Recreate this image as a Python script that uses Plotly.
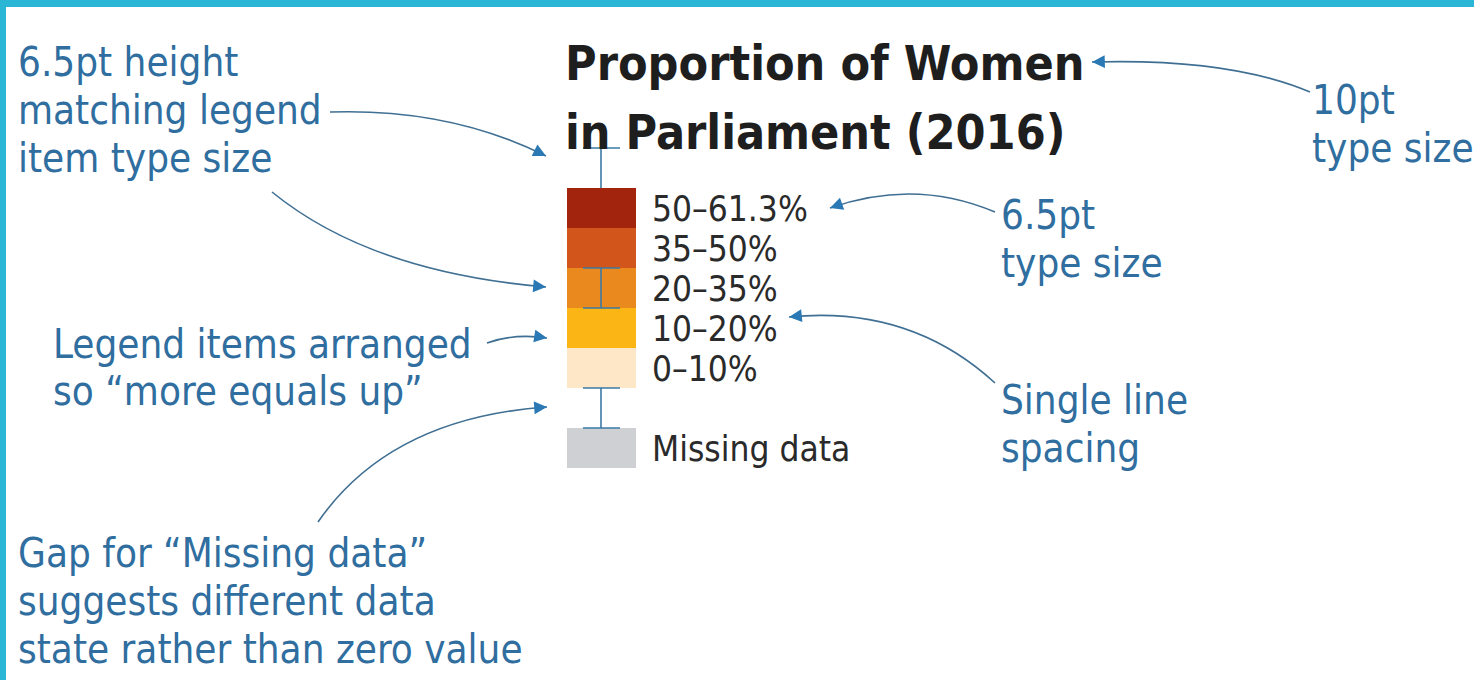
import plotly.graph_objects as go
import math

# ---------------- data ----------------
categories = ["50–61.3%", "35–50%", "20–35%", "10–20%", "0–10%"]
cat_colors = ["#a3240c", "#d2561b", "#ea8a1e", "#fbb515", "#fde7c6"]
missing_label = "Missing data"
missing_color = "#cfd0d3"
title_lines = ["Proportion of Women", "in Parliament (2016)"]

note_topleft = ["6.5pt height", "matching legend", "item type size"]
note_arranged = ["Legend items arranged", "so “more equals up”"]
note_gap = ["Gap for “Missing data”", "suggests different data", "state rather than zero value"]
note_10pt = ["10pt", "type size"]
note_65pt = ["6.5pt", "type size"]
note_single = ["Single line", "spacing"]

# ---------------- layout constants ----------------
W, H = 1474, 680
BLUE = "#2f6e9f"
LINE = "#3f6f93"
DIM = "#3a7aa5"
NARROW = "Liberation Sans Narrow, DejaVu Sans Condensed, Roboto, sans-serif"

sw_x0, sw_x1 = 567, 636
row_top, row_h = 188, 40

fig = go.Figure()

# swatches through the bar trace
n = len(categories)
bases = [row_top + i * row_h for i in range(n)] + [row_top + (n + 1) * row_h]
fig.add_trace(go.Bar(
    x=[(sw_x0 + sw_x1) / 2] * (n + 1),
    y=[row_h] * (n + 1),
    base=bases,
    width=sw_x1 - sw_x0,
    marker=dict(color=cat_colors + [missing_color], line=dict(width=0)),
    hoverinfo="skip",
    showlegend=False,
))

annotations = []
shapes = []

# legend labels
for lab, b in zip(categories + [missing_label], bases):
    annotations.append(dict(x=650, y=b + row_h / 2 + 1, text=lab, showarrow=False,
                            xanchor="left", yanchor="middle",
                            font=dict(family=NARROW, size=35, color="#2a2a2a")))

# title
for i, t in enumerate(title_lines):
    annotations.append(dict(x=563, y=63 + i * 69, text="<b>" + t + "</b>", showarrow=False,
                            xanchor="left", yanchor="middle",
                            font=dict(family=NARROW, size=48, color="#1e1e1e")))


def block(lines, x, y0, step=48, size=40):
    for i, t in enumerate(lines):
        annotations.append(dict(x=x, y=y0 + i * step, text=t, showarrow=False,
                                xanchor="left", yanchor="middle",
                                font=dict(family=NARROW, size=size, color=BLUE)))


block(note_topleft, 16, 62)
block(note_arranged, 51, 344, step=47)
block(note_gap, 16, 553)
block(note_10pt, 1310, 100)
block(note_65pt, 999, 215)
block(note_single, 999, 400)

# dimension I-bars
def ibar(y0, y1, top_tick=True, bot_tick=True):
    shapes.append(dict(type="line", x0=601, x1=601, y0=y0, y1=y1, xref="x", yref="y",
                       line=dict(color=DIM, width=1.6)))
    if top_tick:
        shapes.append(dict(type="line", x0=583, x1=620, y0=y0, y1=y0, xref="x", yref="y",
                           line=dict(color=DIM, width=1.6)))
    if bot_tick:
        shapes.append(dict(type="line", x0=583, x1=620, y0=y1, y1=y1, xref="x", yref="y",
                           line=dict(color=DIM, width=1.6)))

ibar(148, row_top, bot_tick=False)
ibar(row_top + 2 * row_h, row_top + 3 * row_h)
ibar(row_top + 5 * row_h, row_top + 6 * row_h)

# curved arrows (quadratic bezier) + arrowheads
arrows = [
    ((330, 112), (450, 108), (546, 156)),
    ((272, 192), (370, 272), (546, 287)),
    ((487, 343), (515, 333), (547, 338)),
    ((318, 522), (390, 418), (547, 407)),
    ((995, 212), (915, 178), (830, 208)),
    ((1310, 92), (1230, 58), (1092, 62)),
    ((995, 383), (910, 305), (789, 317)),
]
for p0, p1, p2 in arrows:
    shapes.append(dict(type="path", xref="x", yref="y",
                       path=f"M {p0[0]},{p0[1]} Q {p1[0]},{p1[1]} {p2[0]},{p2[1]}",
                       line=dict(color=LINE, width=1.6)))
    dx, dy = p2[0] - p1[0], p2[1] - p1[1]
    d = math.hypot(dx, dy)
    tx, ty = p2[0] - dx / d * 14, p2[1] - dy / d * 14
    annotations.append(dict(x=p2[0], y=p2[1], ax=tx, ay=ty, axref="x", ayref="y",
                            xref="x", yref="y", text="", showarrow=True,
                            arrowhead=2, arrowsize=1.6, arrowwidth=1.6,
                            arrowcolor="#2a78b4", standoff=0, startstandoff=0))

# cyan frame
shapes.append(dict(type="rect", x0=0, x1=W, y0=0, y1=7, xref="x", yref="y",
                   fillcolor="#2cb6d6", line=dict(width=0), layer="above"))
shapes.append(dict(type="rect", x0=0, x1=6, y0=0, y1=H, xref="x", yref="y",
                   fillcolor="#2cb6d6", line=dict(width=0), layer="above"))

fig.update_layout(
    width=W, height=H,
    margin=dict(l=0, r=0, t=0, b=0),
    paper_bgcolor="white", plot_bgcolor="white",
    xaxis=dict(range=[0, W], visible=False, fixedrange=True),
    yaxis=dict(range=[H, 0], visible=False, fixedrange=True),
    annotations=annotations, shapes=shapes,
    showlegend=False, bargap=0,
)

fig.write_html(
    "out.html",
    config={"displayModeBar": False},
    post_script="document.body.style.margin='0px';document.body.style.overflow='hidden';",
)
